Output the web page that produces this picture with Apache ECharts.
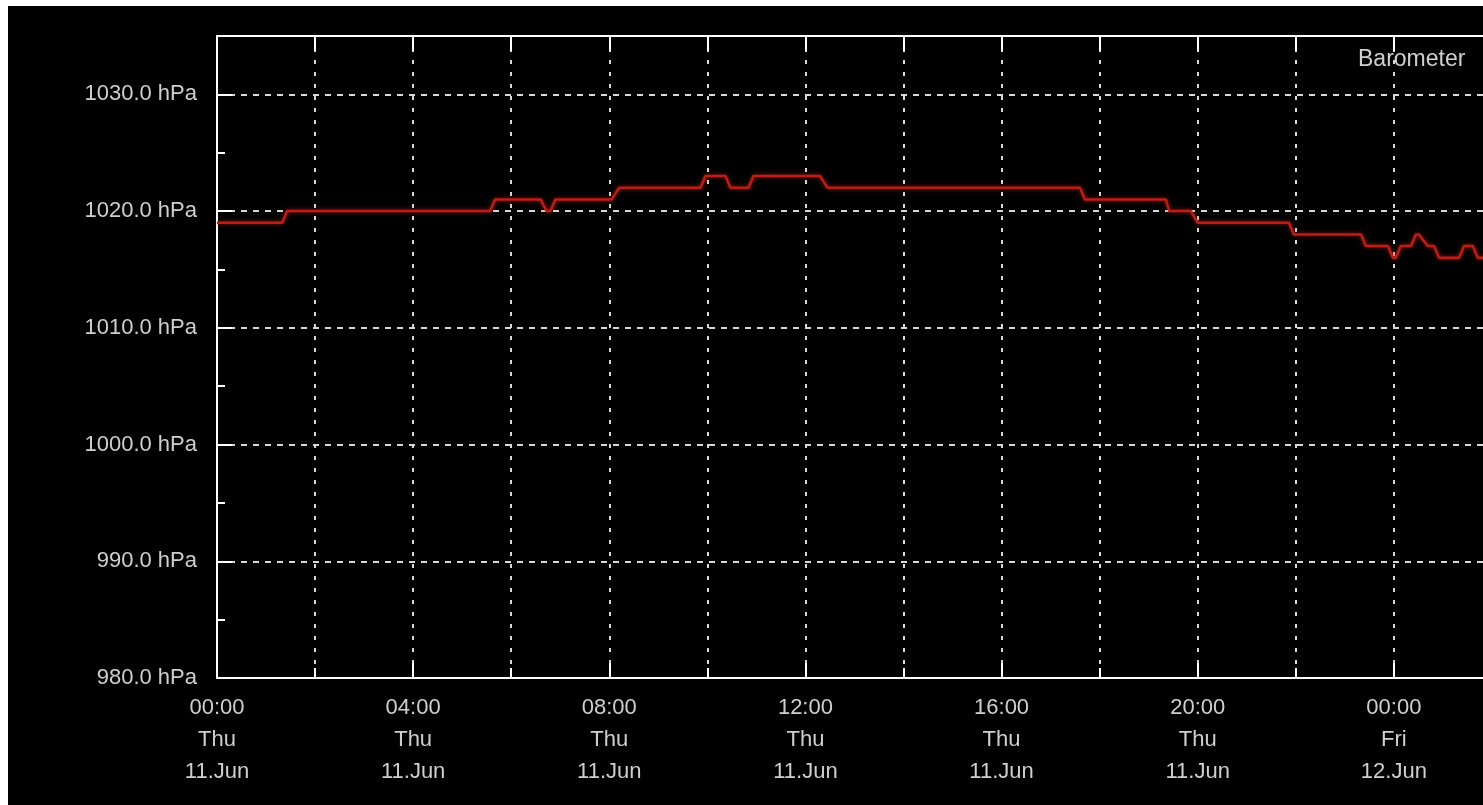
<!DOCTYPE html>
<html>
<head>
<meta charset="utf-8">
<script src="https://cdn.jsdelivr.net/npm/echarts@6/dist/echarts.min.js"></script>
<style>
html,body{margin:0;padding:0;background:#fff;overflow:hidden;width:1483px;height:805px;}
#c{position:absolute;left:8px;top:6px;width:1700px;height:799px;background:#000;}
</style>
</head>
<body>
<div id="c"></div>
<script>
// hours since Thu 11.Jun 00:00
var hours = [0, 1.33, 1.43, 5.57, 5.67, 6.6, 6.72, 6.8, 6.9, 8.05, 8.2, 9.86, 9.96, 10.37, 10.47, 10.84, 10.94, 12.3, 12.45, 17.6, 17.7, 19.35, 19.42, 19.86, 20.0, 21.86, 21.96, 23.33, 23.43, 23.88, 23.98, 24.04, 24.14, 24.35, 24.45, 24.51, 24.69, 24.82, 24.92, 25.33, 25.43, 25.61, 25.71, 26.2];
var pressure = [1019, 1019, 1020, 1020, 1021, 1021, 1020, 1020, 1021, 1021, 1022, 1022, 1023, 1023, 1022, 1022, 1023, 1023, 1022, 1022, 1021, 1021, 1020, 1020, 1019, 1019, 1018, 1018, 1017, 1017, 1016, 1016, 1017, 1017, 1018, 1018, 1017, 1017, 1016, 1016, 1017, 1017, 1016, 1016];
var xTickLabels = ['00:00\nThu\n11.Jun', '04:00\nThu\n11.Jun', '08:00\nThu\n11.Jun', '12:00\nThu\n11.Jun', '16:00\nThu\n11.Jun', '20:00\nThu\n11.Jun', '00:00\nFri\n12.Jun', '04:00\nFri\n12.Jun'];
var yTickValues = [980, 990, 1000, 1010, 1020, 1030];
var seriesName = 'Barometer';

var data = hours.map(function (h, i) { return [h, pressure[i]]; });
var txt = '#cfcfcf';
var font = 'Liberation Sans';
var dotH = {color: '#d8d8d8', width: 2, type: [6, 6]};
var dotV = {color: '#d8d8d8', width: 2, type: [4, 8]};

var chart = echarts.init(document.getElementById('c'));
chart.setOption({
  backgroundColor: '#000',
  animation: false,
  grid: {left: 209, top: 30, width: 1373, height: 642},
  legend: {
    data: [seriesName], left: 1340, top: 37, icon: 'none', itemWidth: 0, itemGap: 0,
    textStyle: {color: txt, fontSize: 23, fontFamily: font}
  },
  xAxis: [{
    type: 'value', min: 0, max: 28, interval: 4, position: 'bottom',
    axisLine: {onZero: false, lineStyle: {color: '#fff', width: 2}},
    axisTick: {inside: true, length: 15, lineStyle: {color: '#fff', width: 2}},
    minorTick: {show: true, splitNumber: 2, length: 10, lineStyle: {color: '#fff', width: 2}},
    splitLine: {show: true, lineStyle: dotV},
    minorSplitLine: {show: true, lineStyle: dotV},
    axisLabel: {
      color: txt, fontSize: 22, fontFamily: font, lineHeight: 32, margin: 14,
      formatter: function (v) { return xTickLabels[Math.round(v / 4)] || ''; }
    }
  }, {
    type: 'value', min: 0, max: 28, interval: 4, position: 'top',
    axisLine: {onZero: false, lineStyle: {color: '#fff', width: 2}},
    axisTick: {inside: true, length: 15, lineStyle: {color: '#fff', width: 2}},
    minorTick: {show: true, splitNumber: 2, length: 15, lineStyle: {color: '#fff', width: 2}},
    splitLine: {show: false},
    axisLabel: {show: false}
  }],
  yAxis: {
    type: 'value', min: 980, max: 1035, interval: 10,
    axisLine: {show: true, lineStyle: {color: '#fff', width: 2}},
    axisTick: {show: true, inside: true, length: 15, lineStyle: {color: '#fff', width: 2}},
    minorTick: {show: true, splitNumber: 2, length: 8, lineStyle: {color: '#fff', width: 2}},
    splitLine: {show: true, lineStyle: dotH},
    axisLabel: {
      color: txt, fontSize: 22, fontFamily: font, margin: 20, showMaxLabel: false,
      formatter: function (v) { return yTickValues.indexOf(v) >= 0 ? v.toFixed(1) + ' hPa' : ''; }
    }
  },
  series: [{
    name: seriesName, type: 'line', xAxisIndex: 0, data: data, showSymbol: false,
    symbol: 'none',
    lineStyle: {color: '#bb1d17', width: 2.5, shadowColor: 'rgba(220,40,30,0.7)', shadowBlur: 4},
    itemStyle: {color: '#bb1d17'}
  }]
});
</script>
</body>
</html>
